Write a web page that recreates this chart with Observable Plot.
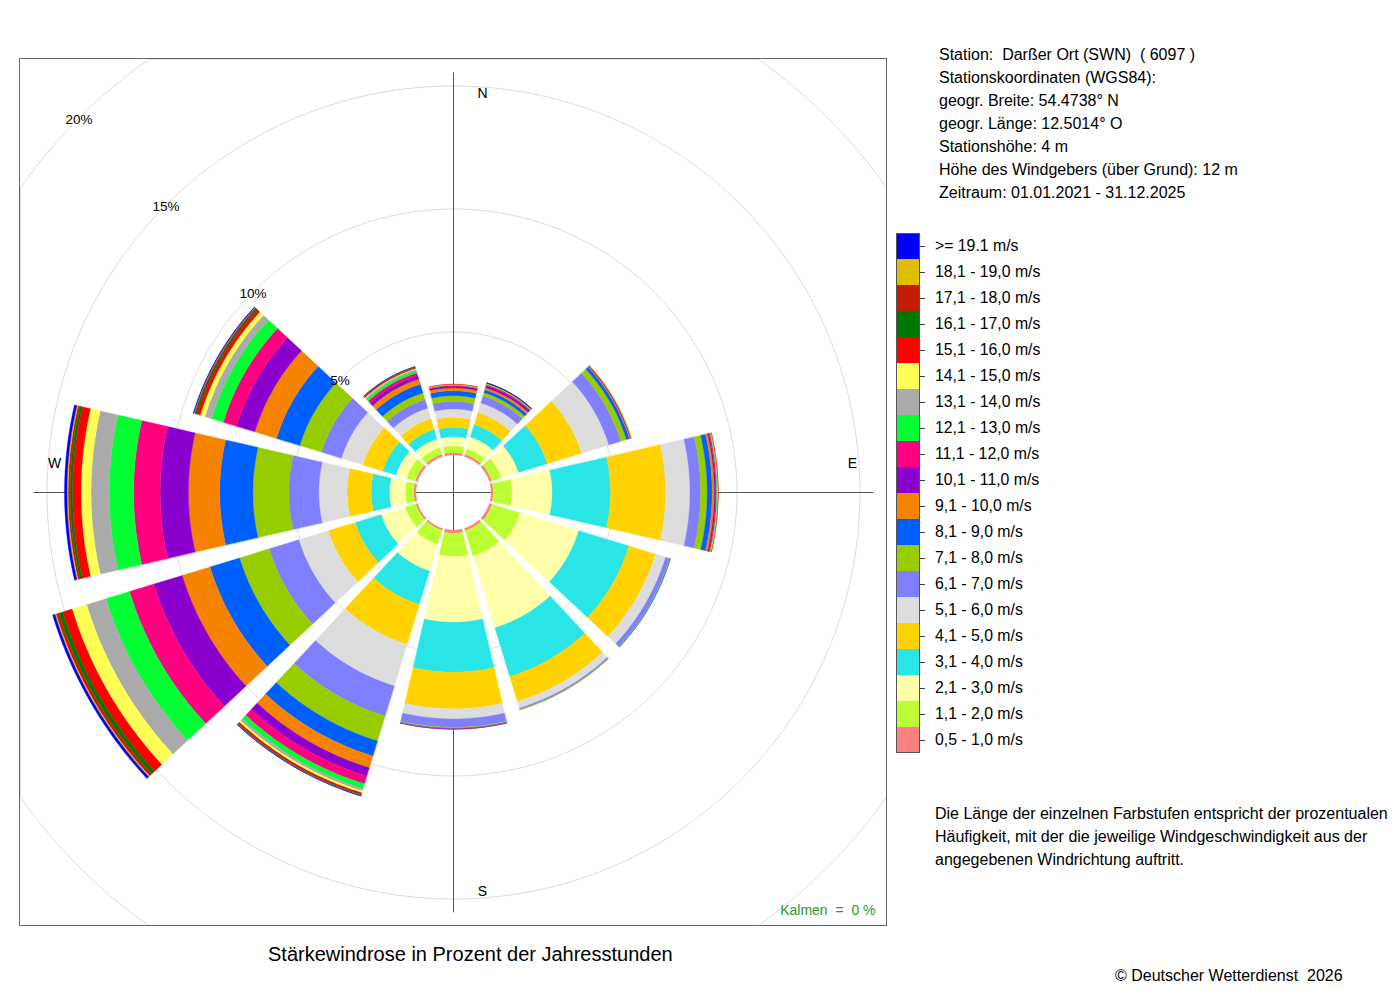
<!DOCTYPE html>
<html><head><meta charset="utf-8">
<script src="https://cdn.jsdelivr.net/npm/d3@7"></script>
<script src="https://cdn.jsdelivr.net/npm/@observablehq/plot@0.6"></script>
<style>
body{margin:0;background:#fff;font-family:"Liberation Sans",Arial,Helvetica,sans-serif;color:#000;}
#page{position:relative;width:1400px;height:1000px;overflow:hidden;}
.t{position:absolute;white-space:pre;font-size:16px;line-height:23px;}
#chart{position:absolute;left:19px;top:58px;width:866px;height:866px;overflow:hidden;border:1px solid #666;}
#chart svg{display:block;}
.lrow{position:absolute;left:896px;width:24px;height:26px;box-sizing:border-box;}
.ltick{position:absolute;left:920px;width:5px;height:1px;background:#444;}
.ltext{position:absolute;left:935px;font-size:15.8px;line-height:26px;white-space:pre;}
</style></head><body><div id="page">
<div id="chart"></div>
<div class="t" style="left:939px;top:43px;">Station:  Darßer Ort (SWN)  ( 6097 )
Stationskoordinaten (WGS84):
geogr. Breite: 54.4738° N
geogr. Länge: 12.5014° O
Stationshöhe: 4 m
Höhe des Windgebers (über Grund): 12 m
Zeitraum: 01.01.2021 - 31.12.2025</div>
<div id="legend"></div>
<div class="t" style="left:935px;top:802px;">Die Länge der einzelnen Farbstufen entspricht der prozentualen
Häufigkeit, mit der die jeweilige Windgeschwindigkeit aus der
angegebenen Windrichtung auftritt.</div>
<div class="t" style="left:268px;top:941px;font-size:20px;line-height:26px;">Stärkewindrose in Prozent der Jahresstunden</div>
<div class="t" style="left:1115px;top:964px;">© Deutscher Wetterdienst  2026</div>
</div>
<script>
// speed classes (legend order bottom -> top)
const bins = ["0,5 - 1,0 m/s","1,1 - 2,0 m/s","2,1 - 3,0 m/s","3,1 - 4,0 m/s","4,1 - 5,0 m/s",
  "5,1 - 6,0 m/s","6,1 - 7,0 m/s","7,1 - 8,0 m/s","8,1 - 9,0 m/s","9,1 - 10,0 m/s",
  "10,1 - 11,0 m/s","11,1 - 12,0 m/s","12,1 - 13,0 m/s","13,1 - 14,0 m/s","14,1 - 15,0 m/s",
  "15,1 - 16,0 m/s","16,1 - 17,0 m/s","17,1 - 18,0 m/s","18,1 - 19,0 m/s",">= 19.1 m/s"];
const colors = ["#ff8080","#bbff33","#ffffaa","#29e5e5","#ffd200",
  "#dddddd","#8080ff","#97cd00","#0060ff","#f58300",
  "#8a00cc","#ff0080","#00ff33","#aaaaaa","#ffff55",
  "#ff0000","#007800","#c41c00","#dfbe00","#0000ff"];

// wind directions (degrees, clockwise from north)
const directions = [0, 30, 60, 90, 120, 150, 180, 210, 240, 270, 300, 330];

// percent of hours per speed class, one array per direction
const vN   = [0.10,0.27,0.37,0.38,0.41,0.34,0.31,0.23,0.20,0.12,0.07,0.03,0.02,0.01,0.01,0.01,0,0,0,0];
const vNNE = [0.10,0.24,0.49,0.53,0.51,0.41,0.30,0.14,0.12,0.09,0.08,0.05,0.03,0.01,0.01,0.01,0.01,0,0,0.01];
const vENE = [0.10,0.41,0.73,1.22,1.46,1.16,0.51,0.24,0.12,0.04,0.02,0.02,0.01,0.01,0.01,0,0,0,0,0];
const vE   = [0.09,0.77,1.63,2.37,2.24,0.99,0.43,0.27,0.20,0.09,0.05,0.04,0.03,0.02,0.01,0.01,0,0,0,0];
const vESE = [0.12,1.20,2.48,2.13,1.13,0.43,0.17,0.03,0.01,0,0,0,0,0,0,0,0,0,0,0];
const vSSE = [0.10,1.09,3.04,2.07,1.06,0.28,0.06,0.02,0,0,0,0,0,0,0,0,0,0,0,0];
const vS   = [0.13,0.95,2.67,2.03,1.49,0.41,0.34,0.04,0.02,0.01,0.01,0,0,0,0,0,0,0,0,0];
const vSSW = [0.08,0.60,1.13,1.42,1.70,1.77,1.28,1.06,0.64,0.50,0.35,0.33,0.20,0.10,0.08,0.06,0.03,0.02,0.01,0.02];
const vWSW = [0.08,0.45,1.02,1.10,1.14,1.26,1.26,1.26,1.26,1.18,1.20,1.04,1.00,0.82,0.62,0.40,0.16,0.12,0.05,0.10];
const vW   = [0.09,0.34,0.65,0.74,0.98,1.15,1.22,1.46,1.35,1.27,1.15,1.08,0.99,0.74,0.41,0.34,0.10,0.08,0.05,0.10];
const vWNW = [0.10,0.37,0.45,0.56,0.85,0.91,0.85,0.92,0.99,0.92,0.78,0.56,0.50,0.28,0.20,0.14,0.07,0.04,0.02,0.03];
const vNNW = [0.10,0.28,0.37,0.41,0.45,0.45,0.37,0.28,0.37,0.22,0.14,0.12,0.10,0.06,0.03,0.03,0.02,0.01,0.01,0.01];
const sectorValues = [vN, vNNE, vENE, vE, vESE, vSSE, vS, vSSW, vWSW, vW, vWNW, vNNW];

const gridPct = [5, 10, 15, 20];
const dirLabels = [{label:"N", theta:4.16},{label:"E", theta:85.84},{label:"S", theta:175.84},{label:"W", theta:274.16}];
const calmText = "Kalmen  =  0 %";

// polar geometry: angle -> longitude, radius (percent) -> co-latitude of an azimuthal projection
const innerPct = 1.524;      // radius of the calm circle in percent units
const framePct = 17.602;     // distance centre -> frame edge in percent units
const halfWidth = 13;        // half opening angle of a sector
const lon = theta => 180 - theta;
const lat = p => 90 - (innerPct + p);

const features = [];
directions.forEach((dir, i) => {
  let cum = 0;
  sectorValues[i].forEach((v, j) => {
    if (v <= 0) return;
    const a = cum, b = cum + v; cum = b;
    const ring = [];
    for (let t = dir - halfWidth; t <= dir + halfWidth + 1e-9; t += 0.5) ring.push([lon(t), lat(b)]);
    for (let t = dir + halfWidth; t >= dir - halfWidth - 1e-9; t -= 0.5) ring.push([lon(t), lat(a)]);
    ring.push(ring[0]);
    features.push({type:"Feature", properties:{bin: bins[j], dir}, geometry:{type:"Polygon", coordinates:[ring]}});
  });
});

const circle = r => d3.geoCircle().center([0, 90]).radius(r).precision(0.5)();
const axisDirs = [0, 90, 180, 270];
const axisPct = 17.07 - innerPct;

const chart = Plot.plot({
  width: 866, height: 866, margin: 0,
  style: {fontFamily: "'Liberation Sans', Arial, sans-serif", fontSize: "13px", background: "transparent"},
  projection: {type: "azimuthal-equidistant", rotate: [0, -90], domain: circle(framePct)},
  color: {type: "ordinal", domain: bins, range: colors},
  marks: [
    Plot.geo(gridPct.map(p => circle(innerPct + p)), {fill: "none", stroke: "#dcdcdc", strokeWidth: 1}),
    Plot.link(axisDirs, {x1: d => lon(d), y1: () => 90, x2: d => lon(d), y2: () => lat(axisPct), stroke: "#555", strokeWidth: 1}),
    Plot.geo(features, {fill: d => d.properties.bin, stroke: d => d.properties.bin, strokeWidth: 0.35}),
    Plot.text(dirLabels, {x: d => lon(d.theta), y: d => 90 - 16.26, text: d => d.label, fontSize: 14, fill: "#000"}),
    Plot.text(gridPct, {x: () => lon(315), y: p => lat(p), text: p => p + "%", fontSize: 13.5, dy: 2, fill: "#000"}),
    Plot.text([calmText], {frameAnchor: "bottom-right", text: d => d, dx: -11, dy: -11, fontSize: 14, fill: "#2e962e"})
  ]
});
document.getElementById("chart").appendChild(chart);

// legend
const legend = d3.select("#legend");
bins.slice().reverse().forEach((b, i) => {
  const c = colors[bins.indexOf(b)];
  const top = 233 + i * 26;
  legend.append("div").attr("class", "lrow").style("top", top + "px").style("background", c)
    .style("border-left", "1px solid #555").style("border-right", "1px solid #555")
    .style("border-top", i === 0 ? "1px solid #555" : "none")
    .style("border-bottom", i === bins.length - 1 ? "1px solid #555" : "none");
  legend.append("div").attr("class", "ltick").style("top", (top + 13) + "px");
  legend.append("div").attr("class", "ltext").style("top", top + "px").text(b);
});
</script>
</body></html>
